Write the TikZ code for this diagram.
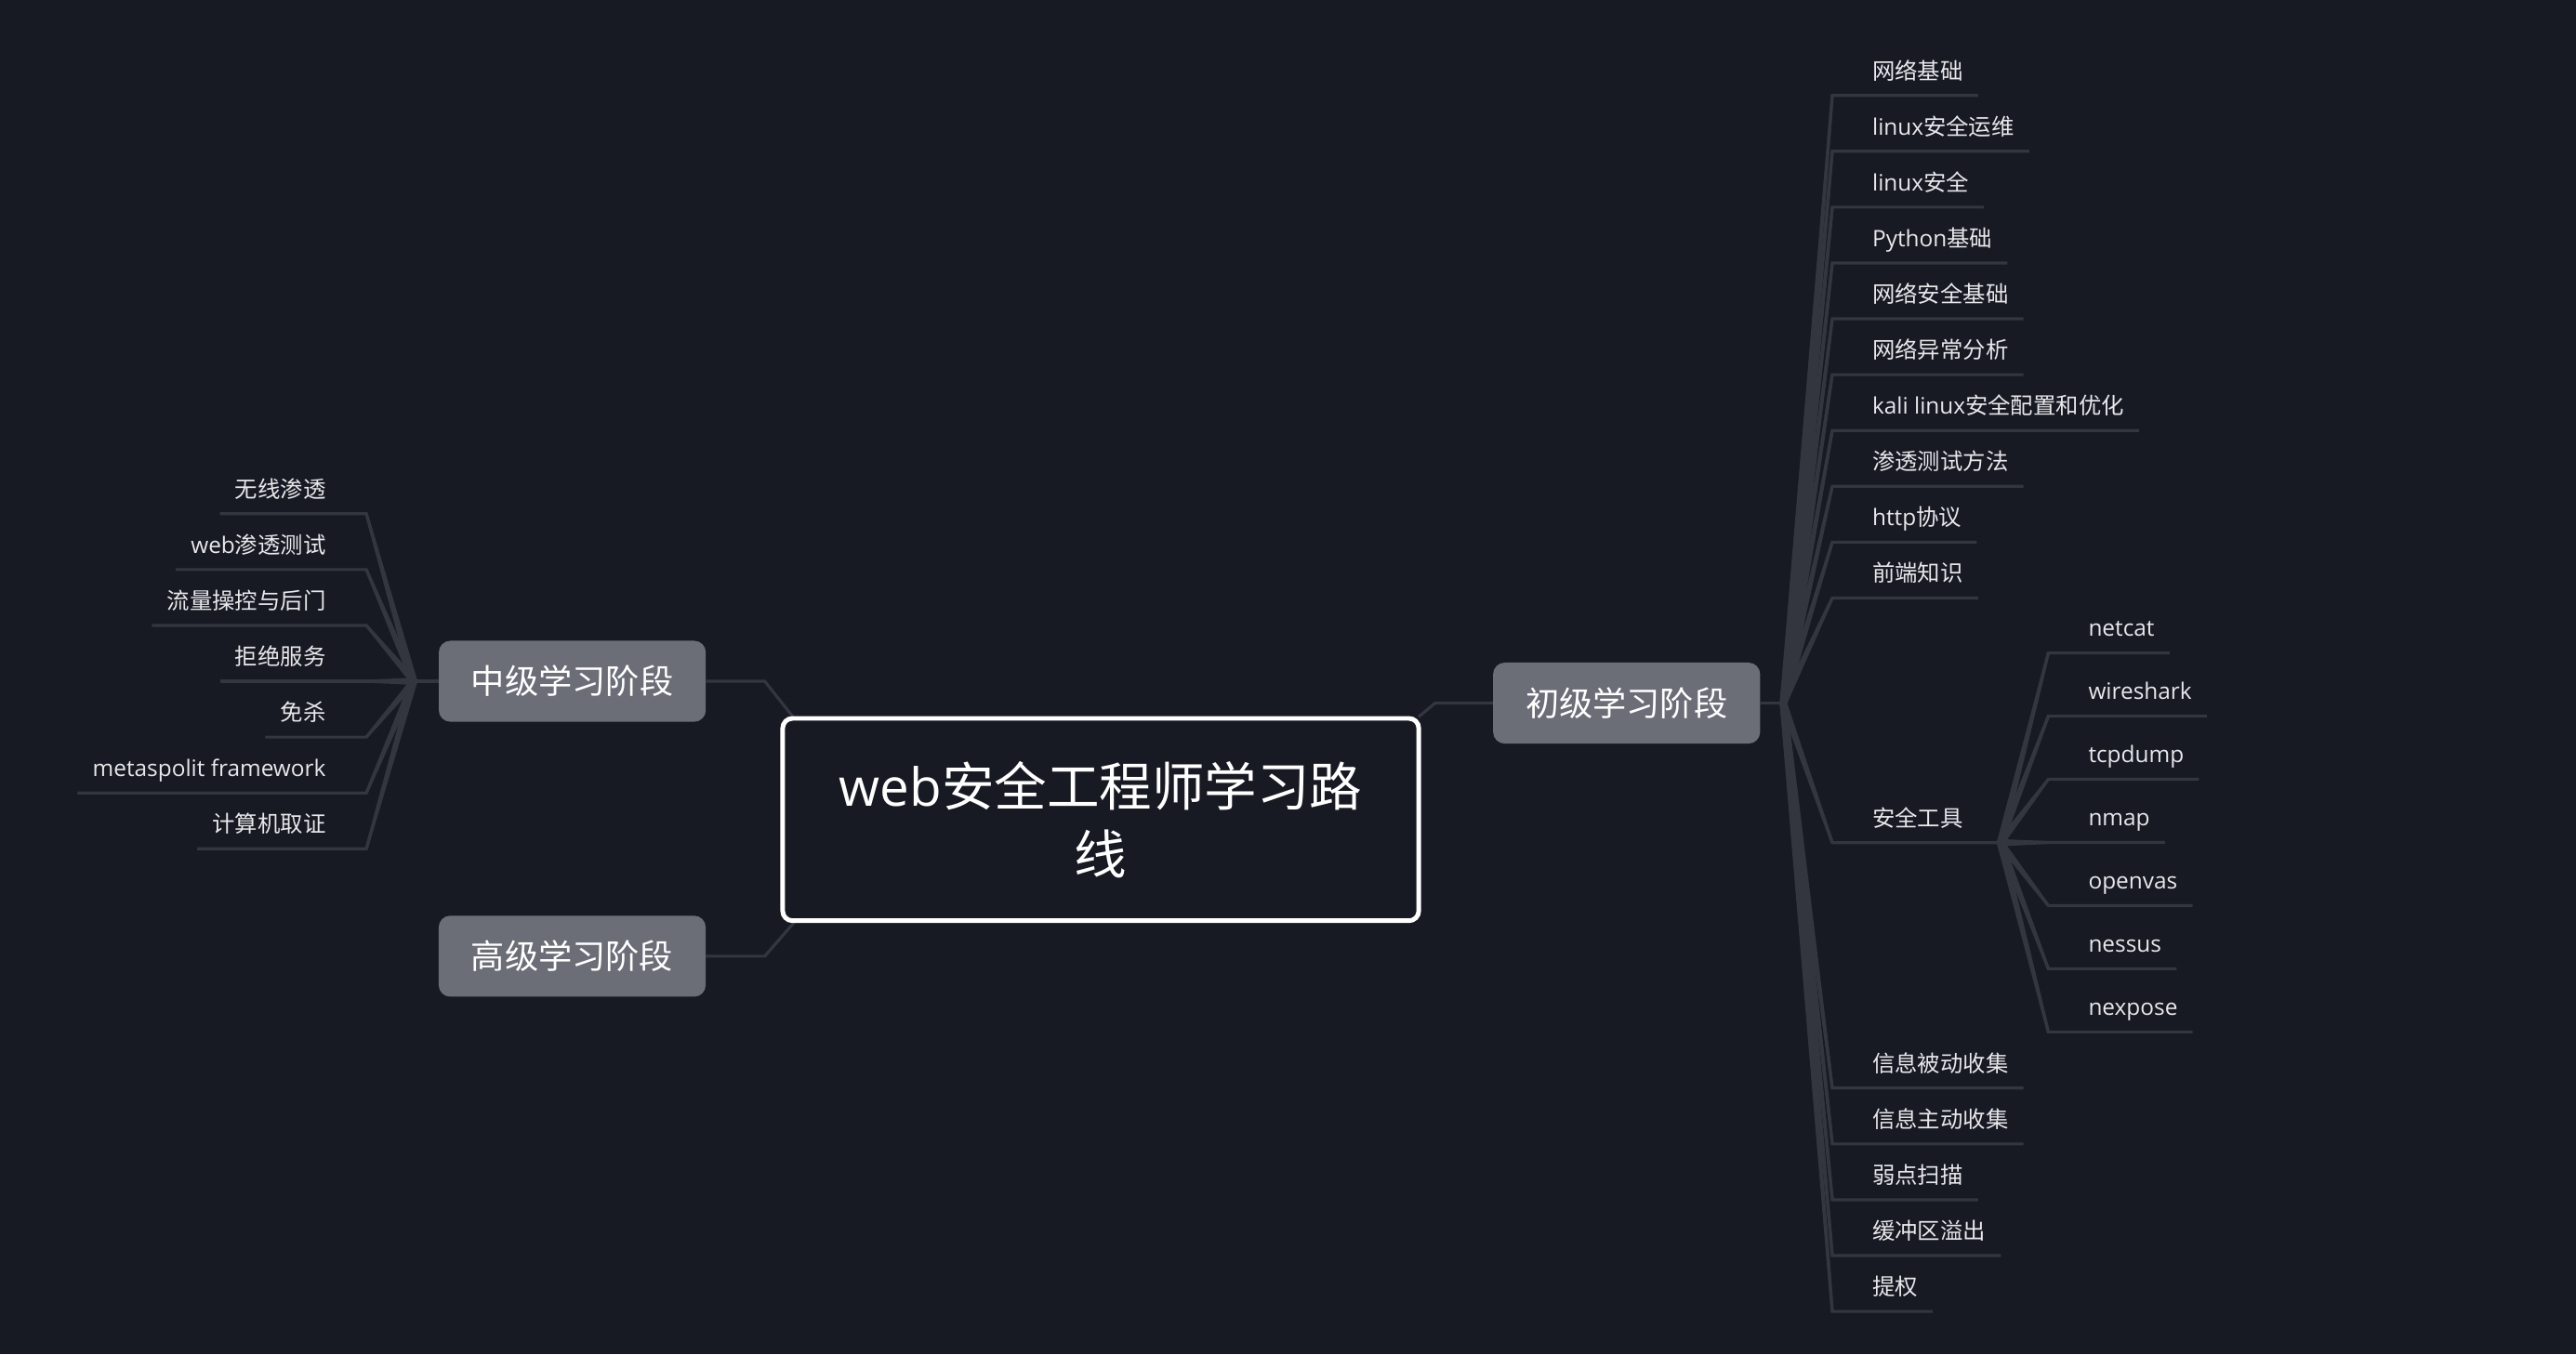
\documentclass[tikz,border=0pt]{standalone}
\usepackage{fontspec}
\setmainfont{Open Sans}
\newfontfamily\cjk{Noto Sans CJK SC}
\usetikzlibrary{calc}
\definecolor{bgcol}{HTML}{171923}
\definecolor{linkcol}{HTML}{33353F}
\definecolor{stagecol}{HTML}{6B6D77}
\definecolor{leafcol}{HTML}{E8E8EA}
\pgfdeclarelayer{bg}
\pgfsetlayers{bg,main}
\newcommand\leaffont{\fontsize{13.8}{16}\selectfont}
\newcommand\taper[2]{\fill[linkcol] ($(#1)!2.2pt!90:(#2)$) -- ($(#2)!0.9pt!-90:(#1)$) -- ($(#2)!0.9pt!90:(#1)$) -- ($(#1)!2.2pt!-90:(#2)$) -- cycle;}
\tikzset{
  stage/.style={fill=stagecol, rounded corners=7pt, minimum width=162.5pt, minimum height=49.3pt,
    inner sep=0pt, text=white, font=\fontsize{20.5}{24}\cjk},
  leafL/.style={anchor=base east, inner sep=0pt, text=leafcol, font=\leaffont},
  leafR/.style={anchor=base west, inner sep=0pt, text=leafcol, font=\leaffont},
  link/.style={draw=linkcol, line width=1.8pt, line join=miter},
}
\begin{document}
\begin{tikzpicture}[x=1pt,y=-1pt]
\useasboundingbox (0,0) rectangle (1568,824.5);
\begin{pgfonlayer}{bg}
\fill[bgcol] (0,0) rectangle (1568,824.5);
\end{pgfonlayer}

% root
\node[draw=white, line width=2.8pt, rounded corners=6pt, fill=bgcol, minimum width=387.2pt,
  minimum height=123.2pt, align=center, text=white, font=\fontsize{32}{41.3}\selectfont]
  (root) at (670,499) {web{\cjk 安全工程师学习路}\\{\cjk 线}};

% stages
\node[stage] (mid) at (348.35,414.8) {中级学习阶段};
\node[stage] (ini) at (990.1,428.1) {初级学习阶段};
\node[stage] (adv) at (348.3,582.2) {高级学习阶段};

\coordinate (hubL) at (251.9,414.8);
\coordinate (hubR) at (1085.5,428.1);
\coordinate (hubT) at (1217.6,513.1);

\coordinate (jL) at (483.5,437.5);
\coordinate (bL) at (465.5,414.8);
\coordinate (jR) at (863.5,436.5);
\coordinate (bR) at (873.5,428.1);
\coordinate (jB) at (483.5,561.5);
\coordinate (bB) at (465.5,582.2);

\begin{pgfonlayer}{bg}
\draw[link] (mid.east) -- (bL) -- (jL);
\draw[link] (ini.west) -- (bR) -- (jR);
\draw[link] (adv.east) -- (bB) -- (jB);
\draw[link] (mid.west) -- (hubL);
\draw[link] (ini.east) -- (hubR);
\end{pgfonlayer}

% left leaves
\foreach \lab [count=\i from 0] in {{\cjk 无线渗透},{web\cjk 渗透测试},{\cjk 流量操控与后门},{\cjk 拒绝服务},{\cjk 免杀},{metaspolit framework},{\cjk 计算机取证}}{
  \pgfmathsetmacro\yy{312.8+34*\i}
  \node[leafL] (l\i) at (198.5,\yy-10) {\lab};
  \coordinate (lc\i) at (223,\yy);
  \coordinate (le\i) at ($(l\i.west |- lc\i)+(-9,0)$);
  \begin{pgfonlayer}{bg}
  \draw[link] (hubL) -- (lc\i) -- (le\i);
  \taper{hubL}{lc\i}
  \end{pgfonlayer}
}

% right leaves (top)
\foreach \lab [count=\i from 0] in {{\cjk 网络基础},{linux\cjk 安全运维},{linux\cjk 安全},{Python\cjk 基础},{\cjk 网络安全基础},{\cjk 网络异常分析},{kali linux\cjk 安全配置和优化},{\cjk 渗透测试方法},{http\cjk 协议},{\cjk 前端知识}}{
  \pgfmathsetmacro\yy{58.1+34*\i}
  \node[leafR] (r\i) at (1139.5,\yy-10) {\lab};
  \coordinate (rc\i) at (1115.3,\yy);
  \coordinate (re\i) at ($(r\i.east |- rc\i)+(9,0)$);
  \begin{pgfonlayer}{bg}
  \draw[link] (hubR) -- (rc\i) -- (re\i);
  \taper{hubR}{rc\i}
  \end{pgfonlayer}
}

% security tools
\node[leafR] (tools) at (1139.5,503.1) {\cjk 安全工具};
\coordinate (tc) at (1115.3,513.1);
\begin{pgfonlayer}{bg}
\draw[link] (hubR) -- (tc) -- (hubT);
\taper{hubR}{tc}
\end{pgfonlayer}

\foreach \lab [count=\i from 0] in {netcat,wireshark,tcpdump,nmap,openvas,nessus,nexpose}{
  \pgfmathsetmacro\yy{397.6+38.45*\i}
  \node[leafR] (s\i) at (1271,\yy-10) {\lab};
  \coordinate (sc\i) at (1246.8,\yy);
  \coordinate (se\i) at ($(s\i.east |- sc\i)+(9,0)$);
  \begin{pgfonlayer}{bg}
  \draw[link] (hubT) -- (sc\i) -- (se\i);
  \taper{hubT}{sc\i}
  \end{pgfonlayer}
}

% right leaves (bottom)
\foreach \lab [count=\i from 0] in {{\cjk 信息被动收集},{\cjk 信息主动收集},{\cjk 弱点扫描},{\cjk 缓冲区溢出},{\cjk 提权}}{
  \pgfmathsetmacro\yy{662.5+34*\i}
  \node[leafR] (b\i) at (1139.5,\yy-10) {\lab};
  \coordinate (bc\i) at (1115.3,\yy);
  \coordinate (be\i) at ($(b\i.east |- bc\i)+(9,0)$);
  \begin{pgfonlayer}{bg}
  \draw[link] (hubR) -- (bc\i) -- (be\i);
  \taper{hubR}{bc\i}
  \end{pgfonlayer}
}
\end{tikzpicture}
\end{document}
